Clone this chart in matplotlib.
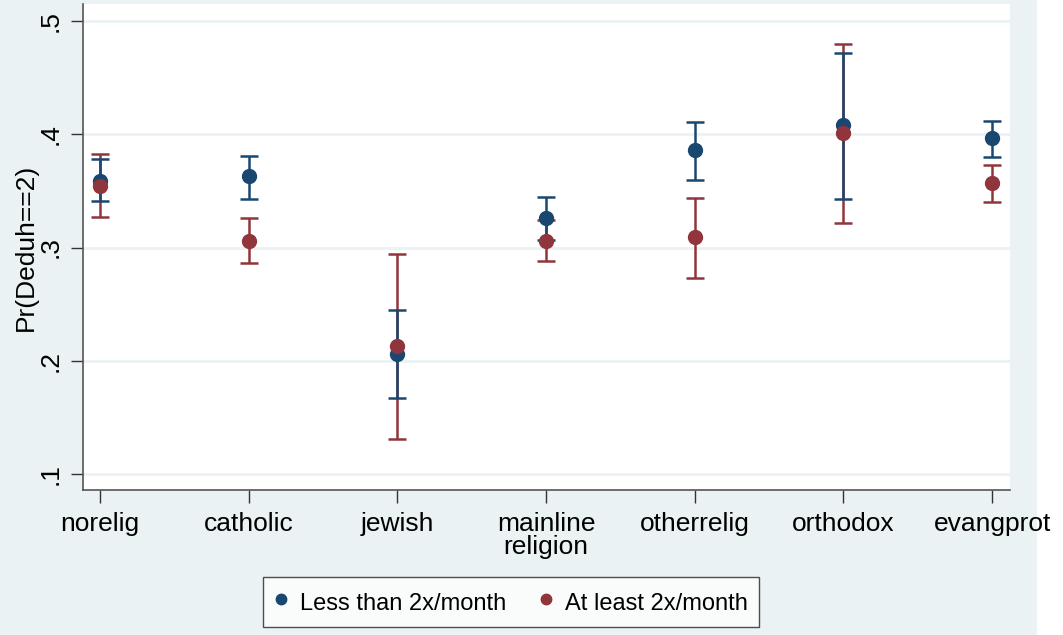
import matplotlib
matplotlib.use("Agg")
import matplotlib.pyplot as plt
from matplotlib.patches import Rectangle
import numpy as np

plt.rcParams['font.family'] = ['Liberation Sans', 'DejaVu Sans']

categories = ["norelig", "catholic", "jewish", "mainline\nreligion",
              "otherrelig", "orthodox", "evangprot"]

# Predicted probabilities with 95% confidence limits
less_est = [0.359, 0.363, 0.206, 0.326, 0.386, 0.408, 0.397]
less_lo = [0.341, 0.343, 0.167, 0.307, 0.360, 0.343, 0.380]
less_hi = [0.378, 0.381, 0.245, 0.345, 0.411, 0.472, 0.412]

most_est = [0.354, 0.306, 0.213, 0.306, 0.309, 0.401, 0.357]
most_lo = [0.327, 0.286, 0.131, 0.288, 0.273, 0.322, 0.340]
most_hi = [0.383, 0.326, 0.294, 0.324, 0.344, 0.480, 0.373]

y_ticks = [0.1, 0.2, 0.3, 0.4, 0.5]
y_tick_labels = [".1", ".2", ".3", ".4", ".5"]

series_labels = ["Less than 2x/month", "At least 2x/month"]
blue = "#1A476F"
red = "#90353B"
bg = "#EAF2F3"

W, H = 1063, 635
fig = plt.figure(figsize=(W / 100, H / 100), dpi=100, facecolor="white")
fig.patches.append(Rectangle((0, 0), 1037 / W, 1, transform=fig.transFigure,
                             facecolor=bg, edgecolor="none", zorder=-10))

ax = fig.add_axes([83 / W, (H - 490) / H, (1010 - 83) / W, (490 - 4) / H])
ax.set_facecolor("white")

x = np.arange(len(categories))

def err(est, lo, hi):
    est, lo, hi = map(np.asarray, (est, lo, hi))
    return np.vstack([est - lo, hi - est])

ax.errorbar(x, most_est, yerr=err(most_est, most_lo, most_hi), fmt="none",
            ecolor=red, elinewidth=1.8, capsize=6.5, capthick=1.8, zorder=3)
ax.errorbar(x, less_est, yerr=err(less_est, less_lo, less_hi), fmt="none",
            ecolor=blue, elinewidth=1.8, capsize=6.5, capthick=1.8, zorder=3)
ax.plot(x, less_est, "o", color=blue, markersize=10, zorder=4,
        label=series_labels[0], linestyle="none")
ax.plot(x, most_est, "o", color=red, markersize=10, zorder=5,
        label=series_labels[1], linestyle="none")

ax.set_xlim(-0.114, 6.12)
ax.set_ylim(0.0859, 0.515)

ax.set_yticks(y_ticks)
ax.set_yticklabels(y_tick_labels, rotation=90, va="center", fontsize=19)
ax.set_xticks(x)
ax.set_xticklabels(categories, fontsize=19, linespacing=0.95)
ax.tick_params(axis="y", length=9, width=1, color="#333333", pad=6)
ax.tick_params(axis="x", length=9, width=1, color="#333333", pad=7)

ax.grid(axis="y", color=bg, linewidth=2)
ax.set_axisbelow(True)
for side in ("top", "right"):
    ax.spines[side].set_visible(False)
for side in ("left", "bottom"):
    ax.spines[side].set_color("#555555")
    ax.spines[side].set_linewidth(1.2)

ax.set_ylabel("Pr(Deduh==2)", fontsize=19, labelpad=0)

leg = ax.legend(loc="center", bbox_to_anchor=(511 / W, (H - 602) / H),
                bbox_transform=fig.transFigure, ncol=2, fontsize=17,
                frameon=True, fancybox=False, edgecolor="#222222",
                handletextpad=0.5, columnspacing=1.4, borderpad=0.45,
                handleheight=1.5, markerscale=0.75, handlelength=0.6)
leg.get_frame().set_linewidth(1.0)

fig.savefig("out.png", dpi=100, facecolor=fig.get_facecolor())
